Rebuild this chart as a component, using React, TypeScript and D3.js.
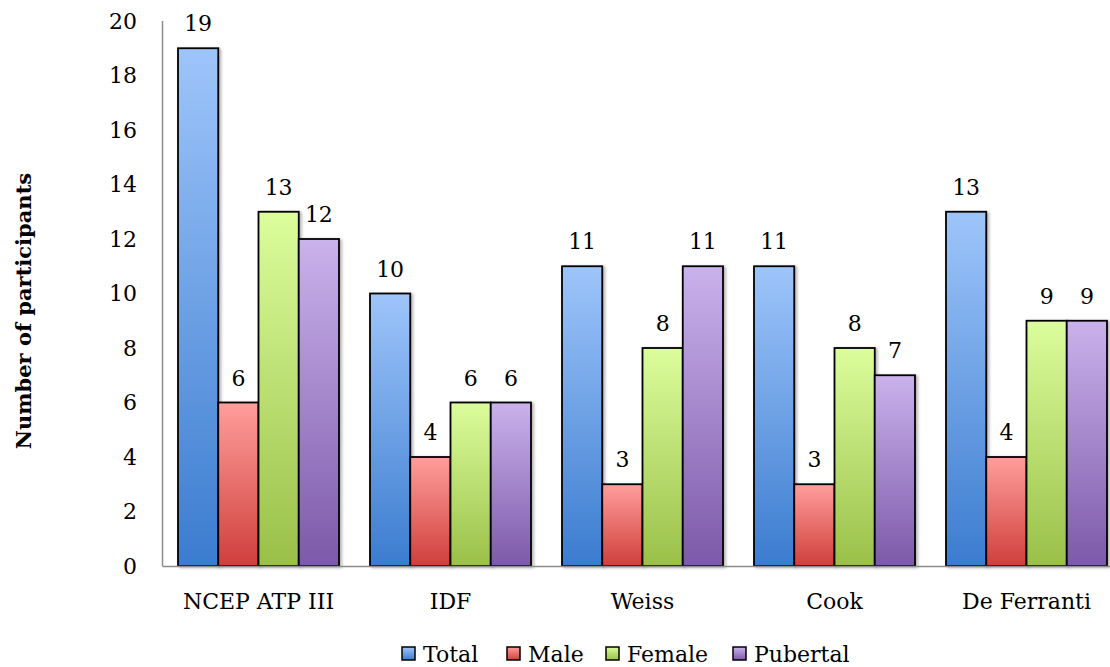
import React from "react";
import * as d3 from "d3";

// Participants meeting each metabolic syndrome definition
const categories = ["NCEP ATP III", "IDF", "Weiss", "Cook", "De Ferranti"];
const seriesNames = ["Total", "Male", "Female", "Pubertal"];
const totalValues = [19, 10, 11, 11, 13];
const maleValues = [6, 4, 3, 3, 4];
const femaleValues = [13, 6, 8, 8, 9];
const pubertalValues = [12, 6, 11, 7, 9];
const yTicks = [0, 2, 4, 6, 8, 10, 12, 14, 16, 18, 20];

const seriesValues = [totalValues, maleValues, femaleValues, pubertalValues];

// light (top) -> dark (bottom) gradient stops for each series
const gradients = [
  { id: "g-total", top: "#9ec5fa", bottom: "#3b7ccf" },
  { id: "g-male", top: "#ff9e9b", bottom: "#cf3f3c" },
  { id: "g-female", top: "#dcfd9c", bottom: "#9ac049" },
  { id: "g-pubertal", top: "#cab2ec", bottom: "#7c59a9" },
];

const W = 1110;
const H = 667;
const FONT = "DejaVu Serif";
const FS = 22;

export default function App() {
  const y = d3.scaleLinear().domain([0, 20]).range([566, 21]);
  const pad = 31 / 192;
  const x0 = d3
    .scaleBand<string>()
    .domain(categories)
    .range([162.5, 1122.5])
    .paddingInner(pad)
    .paddingOuter(pad / 2);
  const x1 = d3
    .scaleBand<string>()
    .domain(seriesNames)
    .range([0, x0.bandwidth()])
    .padding(0);

  const legendItems = [
    { name: "Total", x: 402 },
    { name: "Male", x: 507 },
    { name: "Female", x: 606 },
    { name: "Pubertal", x: 733 },
  ];

  return (
    <div style={{ position: "fixed", left: 0, top: 0 }}>
      <svg width={W} height={H} style={{ display: "block", background: "#fff" }}>
        <defs>
          {gradients.map((g) => (
            <linearGradient key={g.id} id={g.id} x1="0" y1="0" x2="0" y2="1">
              <stop offset="0%" stopColor={g.top} />
              <stop offset="100%" stopColor={g.bottom} />
            </linearGradient>
          ))}
          <filter id="shadow" x="-20%" y="-5%" width="150%" height="115%">
            <feDropShadow dx="2" dy="1" stdDeviation="1.6" floodColor="#000" floodOpacity="0.3" />
          </filter>
        </defs>

        {/* y axis line */}
        <line x1={162.5} x2={162.5} y1={y(20)} y2={y(0)} stroke="#8c8c8c" strokeWidth={1.5} />

        {/* y tick labels */}
        {yTicks.map((t) => (
          <text
            key={t}
            x={137}
            y={y(t)}
            dy="0.36em"
            textAnchor="end"
            style={{ fontFamily: FONT, fontSize: FS }}
            fill="#000"
          >
            {t}
          </text>
        ))}

        {/* bars */}
        {categories.map((c, ci) => (
          <g key={c} transform={`translate(${x0(c)},0)`}>
            {seriesNames.map((s, si) => {
              const v = seriesValues[si][ci];
              const bx = x1(s) as number;
              return (
                <g key={s}>
                  <rect
                    x={bx}
                    y={y(v)}
                    width={x1.bandwidth()}
                    height={y(0) - y(v)}
                    fill={`url(#${gradients[si].id})`}
                    stroke="#000"
                    strokeWidth={1.8}
                    filter="url(#shadow)"
                  />
                  <text
                    x={bx + x1.bandwidth() / 2}
                    y={y(v) - 17}
                    textAnchor="middle"
                    style={{ fontFamily: FONT, fontSize: FS }}
                    fill="#000"
                  >
                    {v}
                  </text>
                </g>
              );
            })}
          </g>
        ))}

        {/* x axis line */}
        <line x1={162.5} x2={W} y1={y(0) + 0.5} y2={y(0) + 0.5} stroke="#8c8c8c" strokeWidth={1.5} />

        {/* category labels */}
        {categories.map((c) => (
          <text
            key={c}
            x={(x0(c) as number) + x0.bandwidth() / 2}
            y={609}
            textAnchor="middle"
            style={{ fontFamily: FONT, fontSize: FS }}
            fill="#000"
          >
            {c}
          </text>
        ))}

        {/* y axis title */}
        <text
          transform={`translate(31,${(170 + 452) / 2}) rotate(-90)`}
          textAnchor="middle"
          style={{ fontFamily: FONT, fontSize: 21, fontWeight: "bold" }}
          fill="#000"
        >
          Number of participants
        </text>

        {/* legend */}
        {legendItems.map((item, i) => (
          <g key={item.name} transform={`translate(${item.x},647)`}>
            <rect
              width={13}
              height={13}
              fill={`url(#${gradients[i].id})`}
              stroke="#000"
              strokeWidth={1.5}
            />
            <text x={21} y={14.5} style={{ fontFamily: FONT, fontSize: FS }} fill="#000">
              {item.name}
            </text>
          </g>
        ))}
      </svg>
    </div>
  );
}
